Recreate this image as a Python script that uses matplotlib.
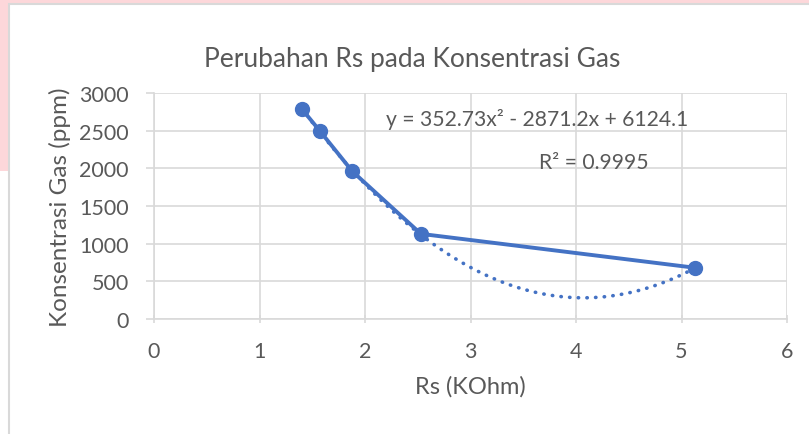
import numpy as np
import matplotlib
matplotlib.use('Agg')
import matplotlib.pyplot as plt
from matplotlib.patches import Rectangle

# data
rs = [1.40, 1.57, 1.88, 2.53, 5.13]
gas = [2790, 2500, 1960, 1130, 680]
trend_coef = [352.73, -2871.2, 6124.1]
x_ticks = [0, 1, 2, 3, 4, 5, 6]
y_ticks = [0, 500, 1000, 1500, 2000, 2500, 3000]

blue = '#4472C4'
grey_txt = '#595959'
grid_col = '#D9D9D9'

plt.rcParams['font.family'] = ['Lato', 'DejaVu Sans']

fig = plt.figure(figsize=(8.09, 4.35), dpi=100)

# page background: pink band around the chart frame
fig.patches.append(Rectangle((0, 1 - 4.5 / 435), 1, 4.5 / 435, transform=fig.transFigure,
                             facecolor='#FDD7DA', edgecolor='none', zorder=-2))
fig.patches.append(Rectangle((0, 1 - 172 / 435), 8.5 / 809, 172 / 435, transform=fig.transFigure,
                             facecolor='#FDD7DA', edgecolor='none', zorder=-2))
fig.patches.append(Rectangle((9 / 809, -0.05), 1.0, 1.05 - 4.5 / 435, transform=fig.transFigure,
                             facecolor='white', edgecolor='#D9D9D9', linewidth=1.5, zorder=-1))

ax = fig.add_axes([154 / 809, 1 - 320 / 435, (787 - 154) / 809, (320 - 94) / 435])
ax.set_zorder(2)
ax.set_facecolor('none')

# trendline (polynomial, order 2)
xt = np.linspace(min(rs), max(rs), 200)
ax.plot(xt, np.polyval(trend_coef, xt), linestyle=(0, (0.1, 2.3)), color=blue,
        linewidth=2.6, dash_capstyle='round', zorder=3)
ax.plot(rs, gas, color=blue, linewidth=2.8, marker='o', markersize=10, zorder=4)

ax.set_xlim(0, 6)
ax.set_ylim(0, 3000)
ax.set_xticks(x_ticks)
ax.set_yticks(y_ticks)
ax.grid(True, color=grid_col, linewidth=1.2)
ax.set_axisbelow(True)
for s in ['top', 'right']:
    ax.spines[s].set_visible(False)
for s in ['left', 'bottom']:
    ax.spines[s].set_color(grid_col)
    ax.spines[s].set_linewidth(1.2)
ax.tick_params(axis='both', colors=grid_col, labelcolor=grey_txt, labelsize=15.5, length=6, width=1.2)
ax.tick_params(axis='x', direction='inout', pad=13)
ax.tick_params(axis='y', pad=12)

ax.set_xlabel('Rs (KOhm)', fontsize=17, color=grey_txt, labelpad=10)
ax.set_ylabel('Konsentrasi Gas (ppm)', fontsize=17.5, color=grey_txt, labelpad=6)

fig.text(412 / 809, 1 - 60 / 435, 'Perubahan Rs pada Konsentrasi Gas', ha='center', va='center',
         fontsize=19, color=grey_txt)
fig.text(537 / 809, 1 - 120 / 435, 'y = 352.73x² - 2871.2x + 6124.1', ha='center', va='center',
         fontsize=15.2, color=grey_txt)
fig.text(594 / 809, 1 - 163 / 435, 'R² = 0.9995', ha='center', va='center',
         fontsize=15.2, color=grey_txt)

plt.savefig('out.png', dpi=100)
plt.close()
